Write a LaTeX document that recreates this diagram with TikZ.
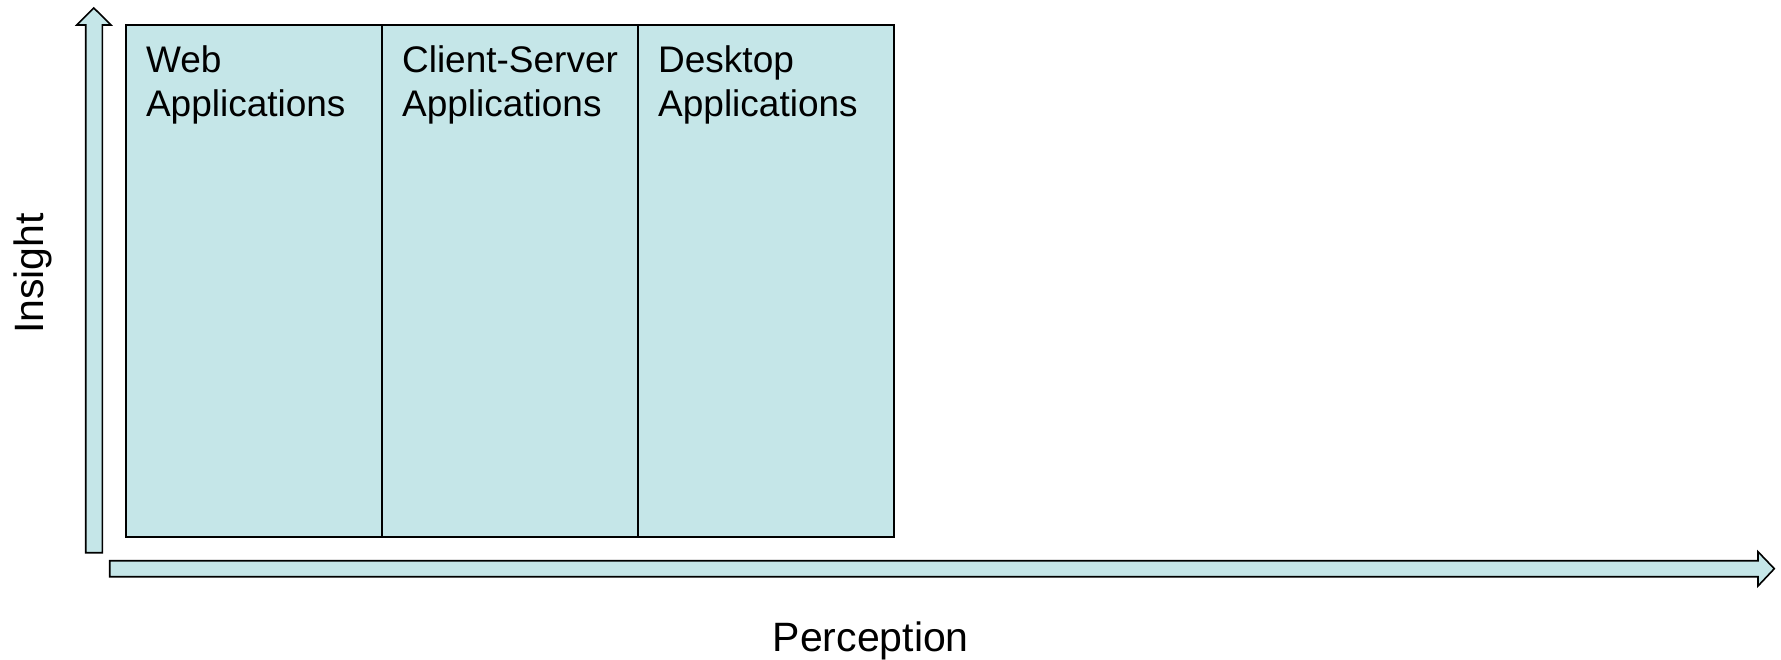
\documentclass[tikz,border=0pt]{standalone}
\usepackage{fontspec}
\setmainfont{Liberation Sans}
\definecolor{boxfill}{RGB}{197,230,232}
\begin{document}
\begin{tikzpicture}[x=1pt,y=-1pt,
  col/.style={draw=black, line width=1.6pt, fill=boxfill, rectangle, inner sep=0pt, outer sep=0pt,
    minimum width=256.1pt, minimum height=511.7pt, anchor=north west},
  lbl/.style={inner sep=0pt, outer sep=0pt, align=left, anchor=north west,
    font=\fontsize{37}{43.7}\selectfont},
  axis/.style={draw=black, line width=1.6pt, fill=boxfill, line join=miter},
  axlbl/.style={inner sep=0pt, font=\fontsize{41}{45}\selectfont}]
\useasboundingbox (0,0) rectangle (1781,659);
% columns
\node[col] (web) at (125.7,25) {};
\node[col] (cs) at (381.8,25) {};
\node[col] (desk) at (637.9,25) {};
\node[lbl] (webt) at ([xshift=20.3pt,yshift=-20.5pt]web.north west) {Web\\Applications};
\node[lbl] (cst) at ([xshift=20.3pt,yshift=-20.5pt]cs.north west) {Client-Server\\Applications};
\node[lbl] (deskt) at ([xshift=20.3pt,yshift=-20.5pt]desk.north west) {Desktop\\Applications};
% vertical arrow
\draw[axis] (85.7,552.7) -- (85.7,25) -- (76.7,25) -- (93.85,8) -- (111,25) -- (102.3,25) -- (102.3,552.7) -- cycle;
% horizontal arrow
\draw[axis] (109.7,560.7) -- (1758,560.7) -- (1758,551.7) -- (1774.3,568.7) -- (1758,586) -- (1758,576.7) -- (109.7,576.7) -- cycle;
\node[axlbl, rotate=90, anchor=base] (ins) at (43.3,273.5) {Insight};
\node[axlbl, anchor=base] (perc) at (870.8,651.7) {Perception};
\end{tikzpicture}
\end{document}
